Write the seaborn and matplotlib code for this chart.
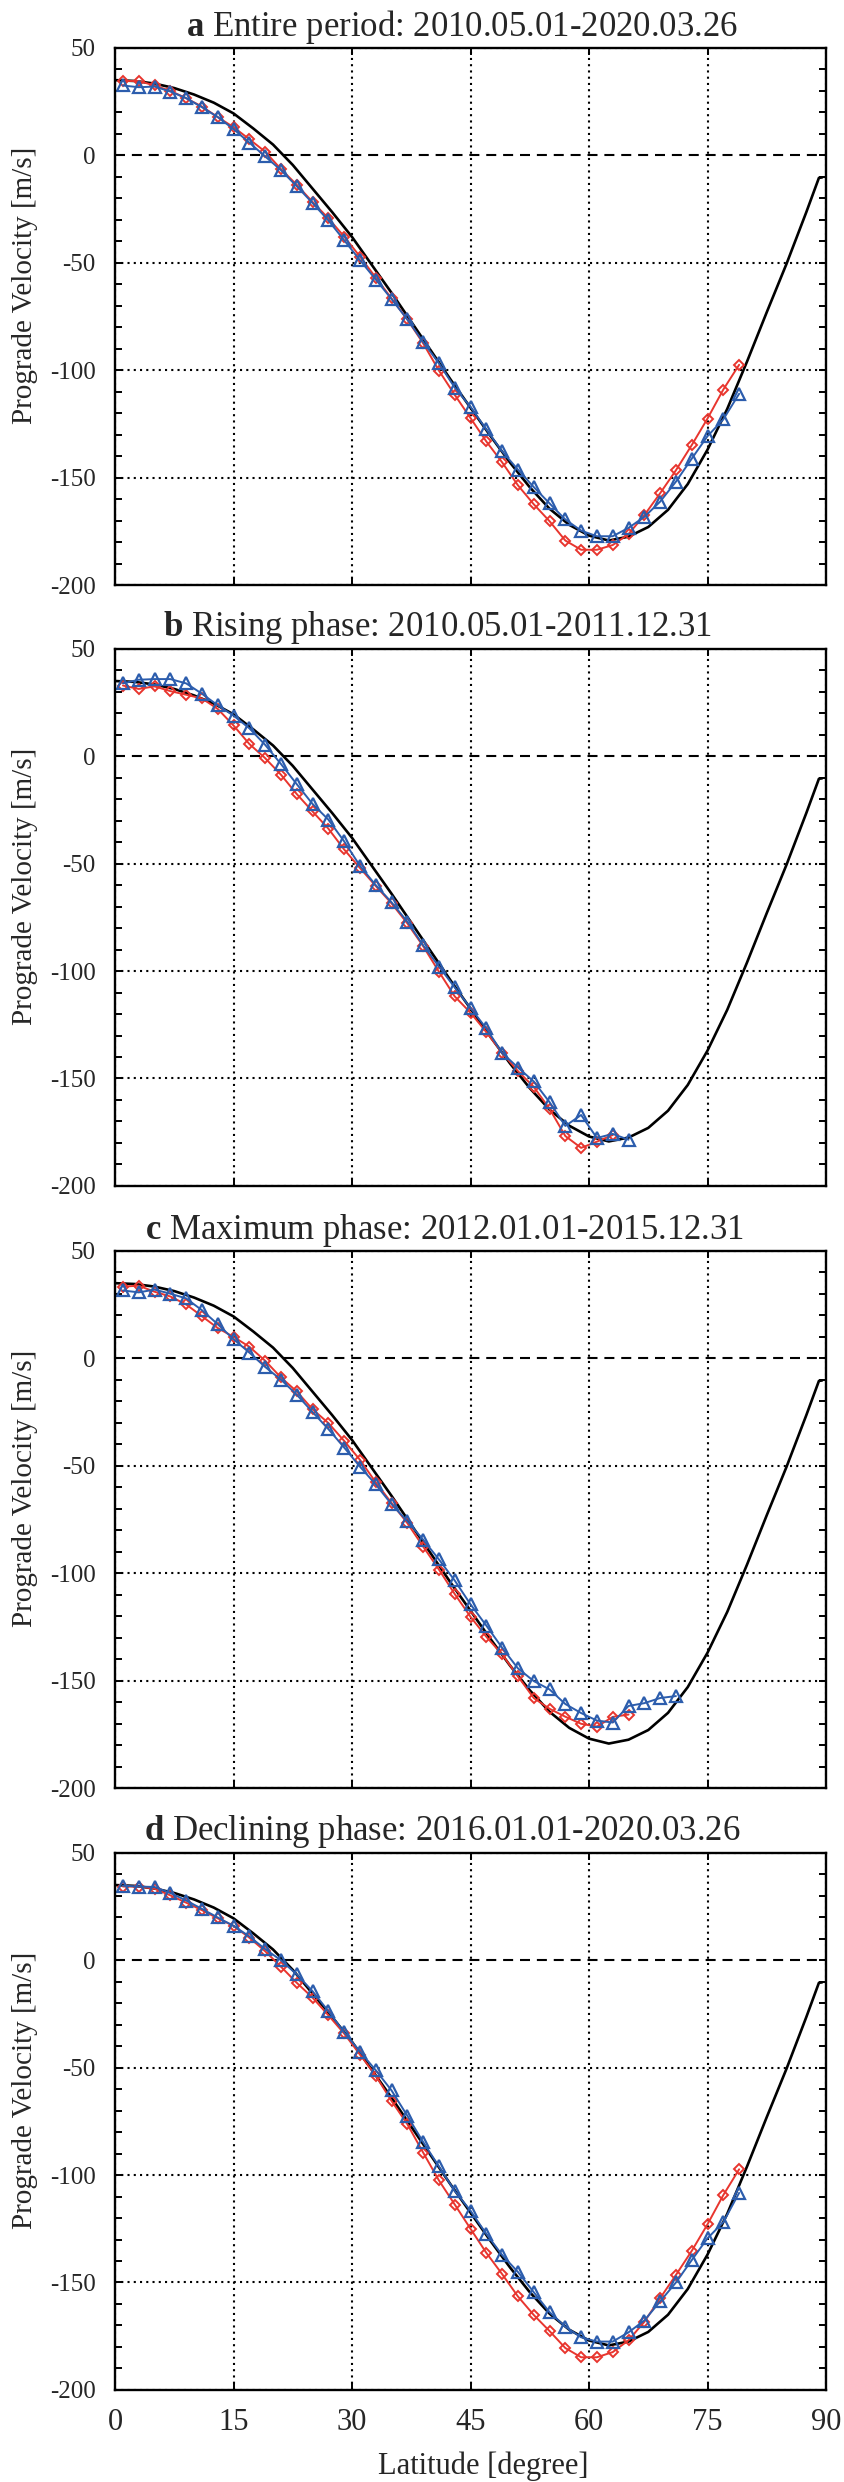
import matplotlib
matplotlib.use("Agg")
import matplotlib.pyplot as plt
import seaborn as sns

# latitude of the measured points (deg)
lat = [1, 3, 5, 7, 9, 11, 13, 15, 17, 19, 21, 23, 25, 27, 29, 31, 33, 35, 37, 39,
       41, 43, 45, 47, 49, 51, 53, 55, 57, 59, 61, 63, 65, 67, 69, 71, 73, 75, 77, 79]

# reference profile (black curve)
lat_ref = [0, 2.5, 5, 7.5, 10, 12.5, 15, 17.5, 20, 22.5, 25, 27.5, 30, 32.5, 35, 37.5,
           40, 42.5, 45, 47.5, 50, 52.5, 55, 57.5, 60, 62.5, 65, 67.5, 70, 72.5, 75,
           77.5, 80, 82.5, 85, 87.5, 89.1, 89.5]
v_ref = [35.0, 34.6, 33.4, 31.3, 28.3, 24.5, 19.5, 12.5, 5.0, -4.5, -15.5, -26.5,
         -38.0, -51.0, -64.0, -77.5, -91.0, -104.5, -117.5, -130.5, -143.0, -154.5,
         -164.5, -172.0, -177.0, -179.3, -177.5, -173.0, -165.0, -153.0, -137.0,
         -118.0, -96.0, -73.0, -50.5, -26.5, -10.5, -10.3]

# panel a: entire period
a_red = [34.6, 34.6, 32.5, 30.0, 26.6, 22.7, 17.8, 13.1, 7.5, 1.7, -6.4, -13.7, -21.7,
         -29.3, -37.8, -47.1, -56.9, -66.6, -76.4, -87.5, -100.2, -111.5, -122.3,
         -133.2, -142.9, -153.6, -162.4, -170.3, -179.3, -183.6, -183.6, -181.4,
         -176.3, -167.5, -157.3, -146.6, -134.9, -122.5, -109.0, -97.5]
a_blue = [32.5, 31.7, 32.0, 29.7, 26.6, 22.4, 17.8, 12.2, 5.9, -0.5, -6.9, -14.4, -22.2,
          -30.3, -39.5, -48.8, -57.8, -66.9, -76.4, -86.9, -96.8, -108.1, -117.1,
          -127.6, -137.8, -146.3, -154.4, -162.0, -169.5, -174.7, -177.3, -177.3,
          -173.4, -168.3, -161.2, -151.9, -141.2, -130.7, -122.9, -111.0]

# panel b: rising phase
b_red = [32.9, 31.3, 32.5, 30.3, 28.6, 26.9, 22.0, 14.3, 5.7, -0.9, -8.6, -17.6, -25.7,
         -33.7, -43.4, -52.0, -60.4, -68.5, -77.8, -88.4, -100.3, -111.8, -119.4,
         -128.4, -138.1, -146.6, -153.9, -164.1, -176.8, -182.3, -179.4, -176.3]
b_blue = [33.9, 35.6, 35.9, 35.9, 33.9, 29.1, 23.7, 18.9, 13.0, 5.3, -3.6, -13.0, -22.2,
          -29.5, -39.6, -51.0, -60.0, -68.0, -77.0, -88.0, -97.9, -107.6, -117.2,
          -126.7, -138.1, -144.9, -151.4, -161.0, -172.1, -167.0, -177.7, -175.8, -178.5]

# panel c: maximum phase
c_red = [33.4, 33.8, 31.0, 28.8, 25.1, 19.6, 14.1, 10.0, 5.4, -1.1, -8.9, -15.4, -23.7,
         -30.1, -38.4, -47.2, -57.7, -67.3, -76.7, -87.6, -98.3, -109.7, -120.3,
         -129.6, -137.8, -148.0, -158.1, -163.1, -166.8, -170.1, -171.4, -166.9, -165.8]
c_blue = [31.6, 30.7, 32.0, 30.1, 27.9, 22.4, 15.9, 8.9, 2.7, -4.0, -9.9, -16.9, -25.0,
          -32.9, -41.5, -50.4, -58.7, -67.9, -75.8, -84.4, -93.6, -103.4, -114.5,
          -124.4, -134.7, -144.3, -150.2, -154.1, -160.9, -165.1, -168.6, -169.5,
          -161.8, -160.5, -158.1, -157.2]

# panel d: declining phase
d_red = [34.3, 34.3, 33.3, 30.2, 26.8, 23.3, 19.5, 16.0, 10.5, 4.2, -3.0, -10.5, -17.4,
         -25.6, -34.1, -43.9, -53.7, -65.5, -76.3, -89.5, -102.5, -113.7, -125.0,
         -136.2, -146.1, -156.5, -165.1, -172.6, -180.5, -184.8, -184.8, -182.4,
         -176.9, -168.3, -157.3, -146.5, -135.3, -122.9, -109.3, -97.3]
d_blue = [34.7, 34.3, 34.1, 31.3, 27.8, 23.9, 19.9, 16.0, 11.1, 5.2, 0.0, -6.6, -14.4,
          -23.7, -33.5, -42.5, -51.2, -60.6, -72.4, -84.6, -96.0, -107.4, -116.6,
          -127.4, -137.2, -145.1, -154.5, -163.8, -170.6, -175.5, -177.5, -177.5,
          -173.2, -167.7, -158.8, -150.0, -139.6, -129.4, -121.9, -108.3]

letters = ["a", "b", "c", "d"]
titles = ["Entire period: 2010.05.01-2020.03.26",
          "Rising phase: 2010.05.01-2011.12.31",
          "Maximum phase: 2012.01.01-2015.12.31",
          "Declining phase: 2016.01.01-2020.03.26"]
reds = [a_red, b_red, c_red, d_red]
blues = [a_blue, b_blue, c_blue, d_blue]

sns.set_theme(style="ticks")
plt.rcParams["font.family"] = ["Liberation Serif", "DejaVu Serif"]
plt.rcParams["mathtext.fontset"] = "custom"
plt.rcParams["mathtext.rm"] = "Liberation Serif"
plt.rcParams["mathtext.bf"] = "Liberation Serif:bold"
plt.rcParams["axes.unicode_minus"] = False

RED = "#e8352e"
BLUE = "#2c5dad"

fig = plt.figure(figsize=(8.44, 24.82), dpi=100)
bottoms = [0.7643, 0.5222, 0.2796, 0.0371]
title_x = [0.488, 0.453, 0.464, 0.460]

for i in range(4):
    ax = fig.add_axes([0.1363, bottoms[i], 0.8424, 0.2164])
    red = reds[i]
    blue = blues[i]

    sns.lineplot(x=lat_ref, y=v_ref, ax=ax, color="black", linewidth=1.9, sort=False)
    sns.lineplot(x=lat[:len(red)], y=red, ax=ax, color=RED, linewidth=1.4,
                 marker="D", markersize=5.6, markerfacecolor="none",
                 markeredgecolor=RED, markeredgewidth=1.4)
    sns.lineplot(x=lat[:len(blue)], y=blue, ax=ax, color=BLUE, linewidth=1.4,
                 marker="^", markersize=9.0, markerfacecolor="none",
                 markeredgecolor=BLUE, markeredgewidth=1.6)

    ax.set_xlim(0, 90)
    ax.set_ylim(-200, 50)
    ax.set_xticks([0, 15, 30, 45, 60, 75, 90])
    ax.set_yticks([-200, -150, -100, -50, 0, 50])
    ax.set_yticks(range(-190, 50, 10), minor=True)

    ax.set_axisbelow(True)
    ax.grid(True, which="major", color="black", linewidth=1.5, linestyle=(0, (1, 2)))
    # zero line is dashed instead of dotted
    ax.get_ygridlines()[4].set_linestyle((0, (4.8, 3.3)))

    for sp in ax.spines.values():
        sp.set_visible(True)
        sp.set_linewidth(1.7)
        sp.set_color("black")

    ax.tick_params(axis="both", which="both", direction="in", top=True, right=True,
                   length=5, width=1.4, color="black")
    ax.tick_params(axis="y", labelsize=18, pad=14)
    ax.tick_params(axis="x", labelsize=22, pad=13)
    if i < 3:
        ax.tick_params(axis="x", labelbottom=False)
        ax.set_xlabel("")
    else:
        ax.set_xlabel("Latitude [degree]", fontsize=22)
        ax.xaxis.set_label_coords(0.518, -0.115)

    ax.set_ylabel("Prograde Velocity [m/s]", fontsize=21)
    ax.yaxis.set_label_coords(-0.108, 0.557)

    ax.text(title_x[i], 1.023, r"$\mathbf{" + letters[i] + "}$ " + titles[i],
            transform=ax.transAxes, ha="center", va="baseline", fontsize=25)

fig.savefig("out.png", dpi=100)
